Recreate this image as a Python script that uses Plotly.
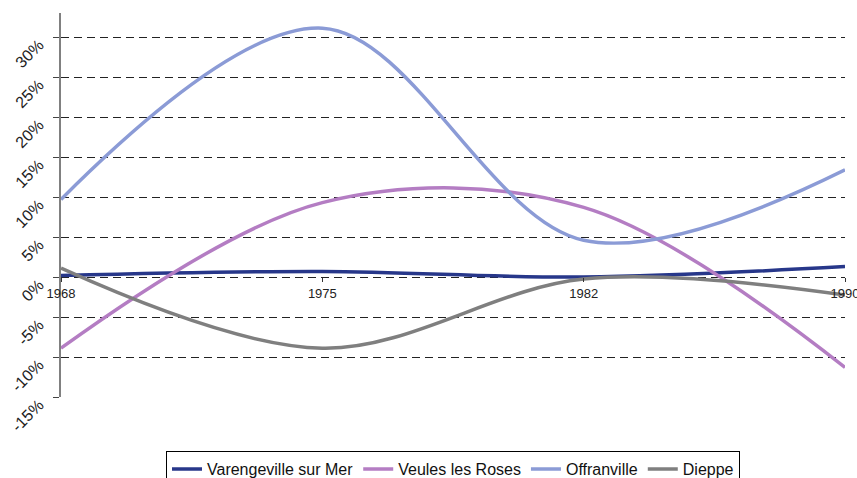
import plotly.graph_objects as go

# Census years (equally spaced categories on the x axis)
years = ["1968", "1975", "1982", "1990"]

# Population change per period, in percent
varengeville = [0.2, 0.7, 0.0, 1.3]
veules = [-8.9, 9.3, 8.7, -11.3]
offranville = [9.7, 31.1, 4.6, 13.4]
dieppe = [1.1, -8.9, -0.25, -2.25]

series = [
    ("Varengeville sur Mer", varengeville, "#27378a"),
    ("Veules les Roses", veules, "#b47dc3"),
    ("Offranville", offranville, "#8b9bd6"),
    ("Dieppe", dieppe, "#7f7f7f"),
]

y_ticks = [-15, -10, -5, 0, 5, 10, 15, 20, 25, 30]
y_labels = [f"{v}%" for v in y_ticks]

fig = go.Figure()
for name, values, color in series:
    fig.add_trace(go.Scatter(
        x=years, y=values, name=name, mode="lines",
        line=dict(color=color, width=3.5, shape="spline", smoothing=1),
    ))

fig.update_layout(
    width=857, height=478,
    margin=dict(l=61, r=12, t=13, b=81, autoexpand=False),
    paper_bgcolor="white", plot_bgcolor="white",
    font=dict(family="Liberation Sans, Arial, sans-serif", color="#222"),
    showlegend=True,
    legend=dict(
        orientation="h", x=0.5, xanchor="center", y=-0.141, yanchor="top",
        bordercolor="#000", borderwidth=1, bgcolor="white",
        font=dict(size=16, color="#111"), itemwidth=30,
        tracegroupgap=0,
    ),
    xaxis=dict(
        type="category", range=[0, 3], anchor="free", position=0.3125,
        showgrid=False, zeroline=False, showline=False, automargin=False,
        ticks="outside", ticklen=4, tickcolor="#333",
        tickfont=dict(size=13, color="#222"),
    ),
    yaxis=dict(
        range=[-15, 33], tickmode="array", tickvals=y_ticks, ticktext=y_labels,
        tickangle=-45, tickfont=dict(size=16, color="#222"), automargin=False,
        ticklabelstandoff=11, ticklabelshift=6,
        showgrid=True, gridcolor="#222", gridwidth=1, griddash="8px,5px",
        zeroline=False, showline=True, linecolor="#808080", linewidth=1.5,
        ticks="outside", ticklen=6, tickcolor="#444",
    ),
)

fig.write_html("out.html")
